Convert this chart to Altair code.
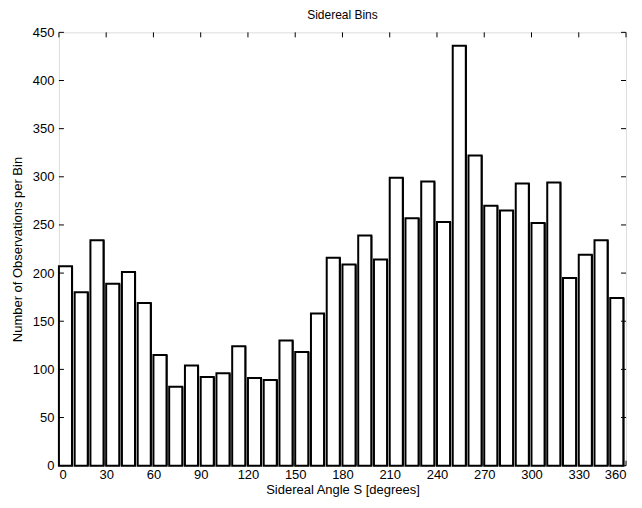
import altair as alt
import pandas as pd

bin_start = list(range(0, 360, 10))
counts = [207, 180, 234, 189, 201, 169, 115, 82, 104, 92, 96, 124, 91, 89, 130, 118, 158, 216,
          209, 239, 214, 299, 257, 295, 253, 436, 322, 270, 265, 293, 252, 294, 195, 219, 234, 174]
x_ticks = list(range(0, 361, 30))
y_ticks = list(range(0, 451, 50))

df = pd.DataFrame({"start": bin_start, "count": counts})
df["end"] = df["start"] + 8.3
df["shade"] = df["start"] + 9.0

FONT = "Liberation Sans"
W, H = 568, 434

xs = alt.Scale(domain=[0, 360], nice=False)
ys = alt.Scale(domain=[0, 450], nice=False)

shadow = alt.Chart(df).mark_rect(color="black").encode(
    x=alt.X("end:Q", scale=xs,
            axis=alt.Axis(values=x_ticks, title="Sidereal Angle S [degrees]", grid=False,
                          ticks=False, domain=False, labelFontSize=13, labelFont=FONT,
                          labelColor="black", labelPadding=3, titleFont=FONT,
                          titleFontSize=13, titleFontWeight="normal", titleColor="black",
                          titlePadding=2)),
    x2="shade:Q",
    y=alt.Y("count:Q", scale=ys,
            axis=alt.Axis(values=y_ticks, title="Number of Observations per Bin", grid=False,
                          ticks=False, domain=False, labelFontSize=13, labelFont=FONT,
                          labelColor="black", labelPadding=5, titleFont=FONT,
                          titleFontSize=13, titleFontWeight="normal", titleColor="black",
                          titlePadding=8)),
    y2=alt.datum(0),
)

bars = alt.Chart(df).mark_rect(fill="white", stroke="black", strokeWidth=2).encode(
    x=alt.X("start:Q", scale=xs),
    x2="end:Q",
    y=alt.Y("count:Q", scale=ys),
    y2=alt.datum(0),
)

xt = pd.DataFrame({"v": x_ticks})
yt = pd.DataFrame({"v": y_ticks})

xt_bot = alt.Chart(xt).mark_rule(color="black", strokeWidth=1).encode(
    x=alt.X("v:Q", scale=xs), y=alt.value(H), y2=alt.value(H - 5))
xt_top = alt.Chart(xt).mark_rule(color="black", strokeWidth=1).encode(
    x=alt.X("v:Q", scale=xs), y=alt.value(0), y2=alt.value(5))
yt_left = alt.Chart(yt).mark_rule(color="black", strokeWidth=1).encode(
    y=alt.Y("v:Q", scale=ys), x=alt.value(0), x2=alt.value(5))
yt_right = alt.Chart(yt).mark_rule(color="black", strokeWidth=1).encode(
    y=alt.Y("v:Q", scale=ys), x=alt.value(W), x2=alt.value(W - 5))

chart = alt.layer(shadow, bars, xt_bot, xt_top, yt_left, yt_right).properties(
    width=W, height=H,
    title=alt.TitleParams("Sidereal Bins", font=FONT, fontSize=12, fontWeight="normal",
                          color="black", offset=4),
    autosize=alt.AutoSizeParams(type="none"),
    padding={"left": 51, "top": 24, "right": 8, "bottom": 40},
).configure_view(stroke="black", strokeWidth=1.5).configure(background="white")

chart.save("out.html", embed_options={"renderer": "svg", "actions": False})
